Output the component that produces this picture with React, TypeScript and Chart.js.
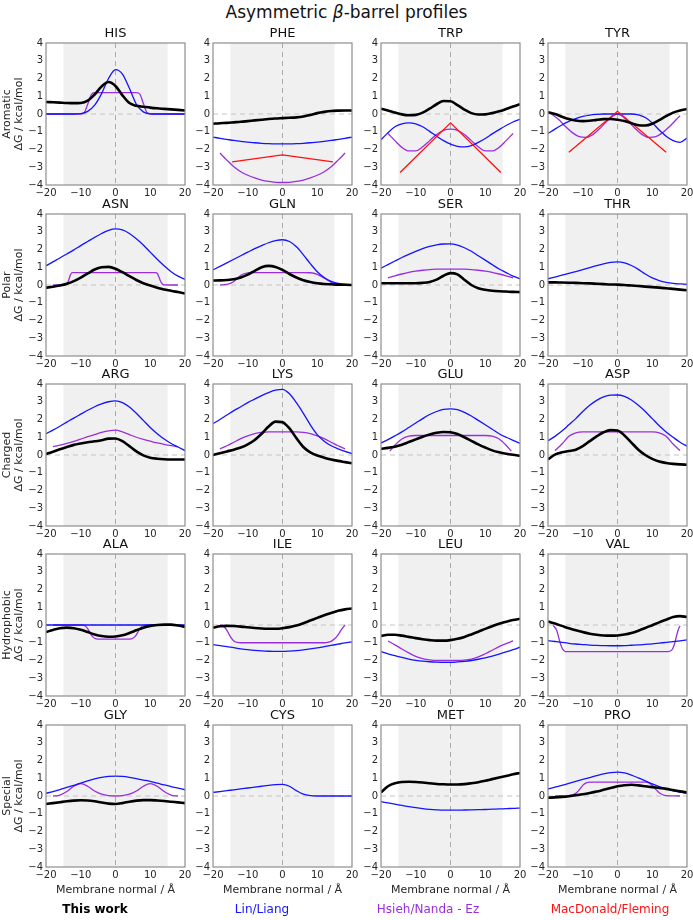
import React, { useEffect, useRef } from 'react';
import { Chart, registerables } from 'chart.js';

Chart.register(...registerables);
Chart.defaults.font.family = "'DejaVu Sans', sans-serif";

// ---------- data ----------
const GROUPS = ['Aromatic', 'Polar', 'Charged', 'Hydrophobic', 'Special'];
const RESIDUES = ['HIS', 'PHE', 'TRP', 'TYR', 'ASN', 'GLN', 'SER', 'THR', 'ARG', 'LYS', 'GLU', 'ASP', 'ALA', 'ILE', 'LEU', 'VAL', 'GLY', 'CYS', 'MET', 'PRO'];
const LEGEND_LABELS = ['This work', 'Lin/Liang', 'Hsieh/Nanda - Ez', 'MacDonald/Fleming'];
const X_TICKS = [-20, -10, 0, 10, 20];
const Y_TICKS = [-4, -3, -2, -1, 0, 1, 2, 3, 4];
const MEMBRANE_BAND = [-15, 15];

const Z_GRID = [-20, -18, -16, -14, -12, -10, -8, -6, -4, -2, 0, 2, 4, 6, 8, 10, 12, 14, 16, 18, 20];
const Z_INNER = [-18, -16, -14, -12, -10, -8, -6, -4, -2, 0, 2, 4, 6, 8, 10, 12, 14, 16, 18];

// Aromatic
const HIS_WORK = [0.68, 0.66, 0.64, 0.62, 0.61, 0.62, 0.75, 1.1, 1.55, 1.8, 1.58, 1.05, 0.62, 0.46, 0.41, 0.36, 0.32, 0.29, 0.26, 0.23, 0.2];
const HIS_LIN = [0, 0, 0, 0, 0, 0.02, 0.15, 0.5, 1.15, 2.0, 2.5, 2.25, 1.45, 0.55, 0.12, 0.01, 0, 0, 0, 0, 0];
const HIS_HSIEH_Z = [-20, -10, -9, -8, -7, -6, 6, 7, 8, 9, 10, 20];
const HIS_HSIEH = [0, 0, 0.08, 0.55, 1.08, 1.2, 1.2, 1.12, 0.6, 0.1, 0, 0];

const PHE_WORK = [-0.55, -0.52, -0.5, -0.47, -0.44, -0.4, -0.36, -0.32, -0.28, -0.25, -0.23, -0.21, -0.19, -0.14, -0.05, 0.05, 0.12, 0.17, 0.19, 0.2, 0.2];
const PHE_LIN = [-1.3, -1.37, -1.43, -1.49, -1.54, -1.58, -1.62, -1.65, -1.67, -1.68, -1.68, -1.68, -1.67, -1.65, -1.62, -1.58, -1.54, -1.49, -1.43, -1.37, -1.3];
const PHE_HSIEH = [-2.2, -2.6, -2.97, -3.25, -3.45, -3.6, -3.72, -3.8, -3.85, -3.86, -3.85, -3.8, -3.72, -3.6, -3.45, -3.25, -2.97, -2.6, -2.2];
const PHE_MAC_Z = [-14.5, 0, 14.5];
const PHE_MAC = [-2.7, -2.3, -2.7];

const TRP_WORK = [0.3, 0.2, 0.08, -0.02, -0.07, -0.05, 0.08, 0.3, 0.55, 0.73, 0.72, 0.5, 0.25, 0.05, -0.03, -0.02, 0.05, 0.15, 0.28, 0.42, 0.55];
const TRP_LIN = [-1.45, -1.05, -0.72, -0.55, -0.5, -0.55, -0.72, -0.98, -1.25, -1.5, -1.7, -1.82, -1.85, -1.78, -1.6, -1.38, -1.12, -0.88, -0.65, -0.45, -0.3];
const TRP_HSIEH = [-1.1, -1.5, -1.88, -2.08, -2.08, -1.85, -1.5, -1.15, -0.92, -0.85, -0.92, -1.15, -1.5, -1.85, -2.08, -2.08, -1.88, -1.5, -1.1];
const TRP_MAC_Z = [-14.5, 0, 14.5];
const TRP_MAC = [-3.3, -0.5, -3.3];

const TYR_WORK = [0.1, 0.0, -0.15, -0.28, -0.37, -0.4, -0.38, -0.33, -0.29, -0.28, -0.32, -0.4, -0.52, -0.63, -0.65, -0.55, -0.35, -0.12, 0.08, 0.2, 0.28];
const TYR_LIN = [-1.1, -0.85, -0.62, -0.42, -0.26, -0.14, -0.06, -0.02, 0, 0, 0, 0, 0, -0.05, -0.2, -0.5, -0.9, -1.25, -1.5, -1.6, -1.35];
const TYR_HSIEH_Z = [-19, -17, -15, -13, -11, -9, -7, -5, -3, -1, 0, 1, 3, 5, 7, 9, 11, 13, 15, 17, 18];
const TYR_HSIEH = [0.0, -0.3, -0.7, -1.05, -1.28, -1.32, -1.15, -0.8, -0.4, -0.08, 0.0, -0.08, -0.4, -0.8, -1.15, -1.32, -1.28, -1.05, -0.7, -0.3, -0.1];
const TYR_MAC_Z = [-14, 0, 14];
const TYR_MAC = [-2.15, 0.15, -2.15];

// Polar
const ASN_WORK = [-0.15, -0.1, -0.03, 0.07, 0.22, 0.42, 0.65, 0.87, 1.0, 1.02, 0.92, 0.72, 0.5, 0.28, 0.1, -0.03, -0.15, -0.25, -0.32, -0.4, -0.48];
const ASN_LIN = [1.08, 1.3, 1.52, 1.75, 1.98, 2.22, 2.45, 2.68, 2.9, 3.08, 3.16, 3.1, 2.9, 2.6, 2.25, 1.85, 1.45, 1.08, 0.75, 0.5, 0.32];
const ASN_HSIEH_Z = [-18, -14.5, -14, -13.5, -13, -12.5, 11.5, 12, 12.5, 13, 13.5, 14, 18];
const ASN_HSIEH = [0, 0, 0.05, 0.25, 0.55, 0.7, 0.7, 0.66, 0.45, 0.2, 0.06, 0.01, 0];

const GLN_WORK = [0.25, 0.26, 0.28, 0.32, 0.42, 0.58, 0.8, 1.0, 1.08, 1.02, 0.85, 0.62, 0.42, 0.27, 0.17, 0.1, 0.06, 0.04, 0.02, 0.01, 0.0];
const GLN_LIN = [0.85, 1.05, 1.25, 1.45, 1.65, 1.85, 2.05, 2.22, 2.38, 2.5, 2.55, 2.45, 2.15, 1.7, 1.2, 0.75, 0.42, 0.2, 0.09, 0.04, 0.02];
const GLN_HSIEH_Z = [-18, -16, -14, -12, -10, -8, 6, 8, 10, 12, 14, 16, 18];
const GLN_HSIEH = [0, 0.03, 0.2, 0.55, 0.68, 0.7, 0.7, 0.69, 0.6, 0.38, 0.15, 0.04, 0];

const SER_WORK = [0.1, 0.1, 0.1, 0.1, 0.1, 0.1, 0.12, 0.17, 0.3, 0.52, 0.67, 0.6, 0.3, 0.0, -0.18, -0.27, -0.32, -0.35, -0.37, -0.39, -0.4];
const SER_LIN = [0.95, 1.15, 1.35, 1.55, 1.73, 1.9, 2.05, 2.17, 2.26, 2.31, 2.32, 2.25, 2.1, 1.9, 1.65, 1.4, 1.15, 0.9, 0.7, 0.5, 0.35];
const SER_HSIEH = [0.4, 0.52, 0.62, 0.71, 0.78, 0.83, 0.87, 0.89, 0.9, 0.9, 0.9, 0.89, 0.87, 0.83, 0.78, 0.71, 0.62, 0.52, 0.4];

const THR_WORK = [0.15, 0.15, 0.14, 0.13, 0.12, 0.1, 0.09, 0.07, 0.05, 0.03, 0.02, 0.0, -0.03, -0.06, -0.09, -0.12, -0.15, -0.18, -0.22, -0.26, -0.3];
const THR_LIN = [0.35, 0.45, 0.55, 0.65, 0.76, 0.87, 0.98, 1.09, 1.19, 1.27, 1.3, 1.25, 1.1, 0.88, 0.62, 0.4, 0.25, 0.15, 0.09, 0.06, 0.04];

// Charged
const ARG_WORK = [0.05, 0.18, 0.32, 0.45, 0.57, 0.65, 0.72, 0.77, 0.83, 0.92, 0.93, 0.78, 0.5, 0.2, -0.02, -0.15, -0.21, -0.24, -0.25, -0.25, -0.25];
const ARG_LIN = [1.2, 1.4, 1.62, 1.85, 2.08, 2.3, 2.52, 2.72, 2.88, 3.0, 3.05, 2.95, 2.7, 2.35, 1.95, 1.55, 1.2, 0.9, 0.65, 0.45, 0.25];
const ARG_HSIEH = [0.47, 0.55, 0.65, 0.77, 0.9, 1.03, 1.15, 1.27, 1.36, 1.4, 1.3, 1.15, 1.0, 0.88, 0.78, 0.68, 0.6, 0.53, 0.47];

const LYS_WORK = [0.0, 0.1, 0.2, 0.3, 0.42, 0.6, 0.85, 1.2, 1.6, 1.88, 1.85, 1.5, 0.95, 0.45, 0.15, -0.03, -0.15, -0.25, -0.33, -0.4, -0.47];
const LYS_LIN = [1.77, 2.0, 2.25, 2.5, 2.72, 2.95, 3.15, 3.35, 3.52, 3.65, 3.7, 3.45, 2.95, 2.35, 1.7, 1.15, 0.78, 0.52, 0.35, 0.2, 0.08];
const LYS_HSIEH = [0.35, 0.52, 0.72, 0.92, 1.08, 1.2, 1.27, 1.3, 1.3, 1.3, 1.3, 1.3, 1.27, 1.2, 1.08, 0.92, 0.72, 0.52, 0.35];

const GLU_WORK = [0.35, 0.4, 0.47, 0.58, 0.73, 0.88, 1.03, 1.15, 1.25, 1.3, 1.28, 1.18, 1.0, 0.8, 0.6, 0.42, 0.26, 0.15, 0.07, 0.01, -0.04];
const GLU_LIN = [0.68, 0.87, 1.08, 1.3, 1.55, 1.8, 2.05, 2.28, 2.45, 2.57, 2.6, 2.55, 2.4, 2.2, 1.95, 1.7, 1.45, 1.2, 1.0, 0.82, 0.65];
const GLU_HSIEH_Z = [-17.5, -16, -14, -12, -10, 10, 12, 14, 16, 17.5];
const GLU_HSIEH = [0.22, 0.55, 0.9, 1.06, 1.1, 1.1, 1.06, 0.9, 0.55, 0.22];

const ASP_WORK = [-0.25, 0.02, 0.15, 0.22, 0.3, 0.5, 0.78, 1.05, 1.28, 1.4, 1.38, 1.1, 0.7, 0.3, 0.0, -0.22, -0.37, -0.45, -0.5, -0.53, -0.55];
const ASP_LIN = [0.8, 1.05, 1.35, 1.7, 2.05, 2.45, 2.8, 3.08, 3.27, 3.37, 3.38, 3.3, 3.1, 2.8, 2.45, 2.05, 1.65, 1.3, 1.0, 0.72, 0.5];
const ASP_HSIEH_Z = [-18, -16, -14, -12, -10, 10, 12, 14, 16, 18];
const ASP_HSIEH = [0.25, 0.62, 1.05, 1.25, 1.3, 1.3, 1.25, 1.05, 0.62, 0.25];

// Hydrophobic
const ALA_WORK = [-0.4, -0.28, -0.18, -0.15, -0.18, -0.27, -0.4, -0.53, -0.62, -0.66, -0.65, -0.58, -0.45, -0.3, -0.15, -0.05, 0.0, 0.02, 0.02, -0.03, -0.1];
const ALA_LIN = [0, 0, 0, 0, 0, 0, 0, 0, 0, 0, 0, 0, 0, 0, 0, 0, 0, 0, 0, 0, 0];
const ALA_HSIEH_Z = [-18, -10, -9, -8, -7, -6, -5, 4, 5, 6, 7, 8, 9, 18];
const ALA_HSIEH = [0, 0, -0.03, -0.2, -0.55, -0.75, -0.8, -0.8, -0.75, -0.55, -0.2, -0.03, 0, 0];

const ILE_WORK = [-0.15, -0.07, -0.05, -0.06, -0.09, -0.13, -0.17, -0.2, -0.21, -0.21, -0.18, -0.12, -0.03, 0.1, 0.25, 0.4, 0.55, 0.68, 0.8, 0.88, 0.93];
const ILE_LIN = [-1.1, -1.16, -1.22, -1.28, -1.34, -1.39, -1.43, -1.46, -1.48, -1.49, -1.49, -1.47, -1.44, -1.4, -1.35, -1.29, -1.22, -1.15, -1.08, -1.01, -0.95];
const ILE_HSIEH_Z = [-18, -17, -16, -15, -14, -13, -12, 12, 13, 14, 15, 16, 17, 18];
const ILE_HSIEH = [0, -0.05, -0.3, -0.65, -0.9, -0.98, -1.0, -1.0, -0.98, -0.92, -0.78, -0.55, -0.25, 0];

const LEU_WORK = [-0.62, -0.55, -0.55, -0.6, -0.67, -0.74, -0.8, -0.85, -0.88, -0.88, -0.85, -0.78, -0.67, -0.53, -0.38, -0.22, -0.07, 0.07, 0.18, 0.28, 0.35];
const LEU_LIN = [-1.5, -1.62, -1.73, -1.83, -1.92, -1.99, -2.04, -2.07, -2.09, -2.1, -2.1, -2.08, -2.05, -2.0, -1.93, -1.85, -1.75, -1.64, -1.52, -1.39, -1.25];
const LEU_HSIEH = [-0.9, -1.12, -1.35, -1.57, -1.77, -1.9, -1.97, -2.0, -2.0, -2.0, -2.0, -1.98, -1.92, -1.8, -1.62, -1.42, -1.22, -1.05, -0.9];

const VAL_WORK = [0.2, 0.08, -0.05, -0.18, -0.3, -0.4, -0.49, -0.55, -0.59, -0.6, -0.59, -0.54, -0.45, -0.32, -0.17, -0.01, 0.15, 0.3, 0.45, 0.5, 0.45];
const VAL_LIN = [-0.88, -0.93, -0.98, -1.03, -1.07, -1.1, -1.13, -1.15, -1.16, -1.17, -1.17, -1.16, -1.14, -1.12, -1.09, -1.06, -1.02, -0.98, -0.94, -0.89, -0.84];
const VAL_HSIEH_Z = [-18.5, -17.5, -17, -16.5, -16, -15.5, -15, 14.5, 15.5, 16, 16.5, 17, 17.5, 18];
const VAL_HSIEH = [-0.02, -0.3, -0.65, -1.0, -1.28, -1.43, -1.5, -1.5, -1.43, -1.28, -1.0, -0.6, -0.25, -0.05];

// Special
const GLY_WORK = [-0.45, -0.4, -0.35, -0.3, -0.26, -0.24, -0.25, -0.3, -0.37, -0.43, -0.45, -0.4, -0.32, -0.26, -0.23, -0.23, -0.25, -0.28, -0.32, -0.36, -0.4];
const GLY_LIN = [0.15, 0.25, 0.36, 0.48, 0.6, 0.72, 0.85, 0.96, 1.05, 1.1, 1.12, 1.1, 1.05, 0.98, 0.9, 0.82, 0.72, 0.63, 0.53, 0.44, 0.35];
const GLY_HSIEH = [0.0, 0.05, 0.25, 0.55, 0.7, 0.55, 0.28, 0.1, 0.02, 0.0, 0.02, 0.1, 0.28, 0.55, 0.7, 0.55, 0.25, 0.05, 0.0];

const CYS_LIN = [0.2, 0.25, 0.3, 0.35, 0.4, 0.45, 0.5, 0.55, 0.6, 0.64, 0.66, 0.55, 0.3, 0.1, 0.02, 0, 0, 0, 0, 0, 0];

const MET_WORK = [0.2, 0.55, 0.72, 0.79, 0.8, 0.79, 0.76, 0.72, 0.68, 0.66, 0.65, 0.65, 0.67, 0.72, 0.78, 0.86, 0.95, 1.04, 1.13, 1.22, 1.3];
const MET_LIN = [-0.32, -0.39, -0.46, -0.53, -0.6, -0.66, -0.71, -0.75, -0.78, -0.8, -0.8, -0.8, -0.79, -0.78, -0.77, -0.76, -0.74, -0.73, -0.71, -0.7, -0.68];

const PRO_WORK = [-0.1, -0.08, -0.05, -0.01, 0.04, 0.1, 0.17, 0.25, 0.35, 0.45, 0.55, 0.61, 0.63, 0.6, 0.55, 0.5, 0.45, 0.4, 0.33, 0.26, 0.2];
const PRO_LIN = [0.4, 0.5, 0.6, 0.71, 0.82, 0.93, 1.04, 1.15, 1.25, 1.32, 1.35, 1.3, 1.18, 1.02, 0.85, 0.68, 0.53, 0.41, 0.31, 0.22, 0.15];
const PRO_HSIEH_Z = [-18, -14, -12, -11, -10, -9, -8, 8, 9, 10, 11, 12, 13, 14, 18];
const PRO_HSIEH = [0, 0.02, 0.15, 0.35, 0.6, 0.74, 0.78, 0.78, 0.74, 0.6, 0.38, 0.18, 0.07, 0.02, 0];

type Series = { work?: number[]; lin?: number[]; hsiehZ?: number[]; hsieh?: number[]; macZ?: number[]; mac?: number[] };

const SERIES: Record<string, Series> = {
  HIS: { work: HIS_WORK, lin: HIS_LIN, hsiehZ: HIS_HSIEH_Z, hsieh: HIS_HSIEH },
  PHE: { work: PHE_WORK, lin: PHE_LIN, hsiehZ: Z_INNER, hsieh: PHE_HSIEH, macZ: PHE_MAC_Z, mac: PHE_MAC },
  TRP: { work: TRP_WORK, lin: TRP_LIN, hsiehZ: Z_INNER, hsieh: TRP_HSIEH, macZ: TRP_MAC_Z, mac: TRP_MAC },
  TYR: { work: TYR_WORK, lin: TYR_LIN, hsiehZ: TYR_HSIEH_Z, hsieh: TYR_HSIEH, macZ: TYR_MAC_Z, mac: TYR_MAC },
  ASN: { work: ASN_WORK, lin: ASN_LIN, hsiehZ: ASN_HSIEH_Z, hsieh: ASN_HSIEH },
  GLN: { work: GLN_WORK, lin: GLN_LIN, hsiehZ: GLN_HSIEH_Z, hsieh: GLN_HSIEH },
  SER: { work: SER_WORK, lin: SER_LIN, hsiehZ: Z_INNER, hsieh: SER_HSIEH },
  THR: { work: THR_WORK, lin: THR_LIN },
  ARG: { work: ARG_WORK, lin: ARG_LIN, hsiehZ: Z_INNER, hsieh: ARG_HSIEH },
  LYS: { work: LYS_WORK, lin: LYS_LIN, hsiehZ: Z_INNER, hsieh: LYS_HSIEH },
  GLU: { work: GLU_WORK, lin: GLU_LIN, hsiehZ: GLU_HSIEH_Z, hsieh: GLU_HSIEH },
  ASP: { work: ASP_WORK, lin: ASP_LIN, hsiehZ: ASP_HSIEH_Z, hsieh: ASP_HSIEH },
  ALA: { work: ALA_WORK, lin: ALA_LIN, hsiehZ: ALA_HSIEH_Z, hsieh: ALA_HSIEH },
  ILE: { work: ILE_WORK, lin: ILE_LIN, hsiehZ: ILE_HSIEH_Z, hsieh: ILE_HSIEH },
  LEU: { work: LEU_WORK, lin: LEU_LIN, hsiehZ: Z_INNER, hsieh: LEU_HSIEH },
  VAL: { work: VAL_WORK, lin: VAL_LIN, hsiehZ: VAL_HSIEH_Z, hsieh: VAL_HSIEH },
  GLY: { work: GLY_WORK, lin: GLY_LIN, hsiehZ: Z_INNER, hsieh: GLY_HSIEH },
  CYS: { lin: CYS_LIN },
  MET: { work: MET_WORK, lin: MET_LIN },
  PRO: { work: PRO_WORK, lin: PRO_LIN, hsiehZ: PRO_HSIEH_Z, hsieh: PRO_HSIEH },
};

// ---------- styling / layout ----------
const COLORS = { work: '#000000', lin: '#1414ff', hsieh: '#9a2ede', mac: '#ff1010' };
const TEXT = '#262626';
const COL_LEFT = [46, 213, 381, 548];
const ROW_TOP = [43, 214, 384, 554, 725];
const PLOT_W = 139;
const PLOT_H = 142;
const FONT = "'DejaVu Sans', sans-serif";

const zip = (zs: number[], ys: number[]) => zs.map((z, i) => ({ x: z, y: ys[i] }));
const fmt = (v: any) => {
  const n = Number(v);
  return n < 0 ? '\u2212' + Math.abs(n) : String(n);
};

const decor = {
  id: 'membraneDecor',
  beforeDatasetsDraw(chart: any) {
    const { ctx, chartArea: a, scales } = chart;
    const x = scales.x, y = scales.y;
    ctx.save();
    const x0 = x.getPixelForValue(MEMBRANE_BAND[0]);
    const x1 = x.getPixelForValue(MEMBRANE_BAND[1]);
    ctx.fillStyle = '#f0f0f0';
    ctx.fillRect(x0, a.top, x1 - x0, a.bottom - a.top);
    ctx.strokeStyle = '#ababab';
    ctx.lineWidth = 1;
    ctx.setLineDash([5, 4]);
    const xz = x.getPixelForValue(0);
    ctx.beginPath();
    ctx.moveTo(xz, a.top);
    ctx.lineTo(xz, a.bottom);
    ctx.stroke();
    const yz = y.getPixelForValue(0);
    ctx.strokeStyle = '#c4c4c4';
    ctx.beginPath();
    ctx.moveTo(a.left, yz);
    ctx.lineTo(a.right, yz);
    ctx.stroke();
    ctx.restore();
  },
  afterDraw(chart: any) {
    const { ctx, chartArea: a } = chart;
    ctx.save();
    ctx.strokeStyle = '#8e8e8e';
    ctx.lineWidth = 1.2;
    ctx.strokeRect(a.left, a.top, a.right - a.left, a.bottom - a.top);
    ctx.restore();
  },
};

function Panel({ idx }: { idx: number }) {
  const ref = useRef<HTMLCanvasElement>(null);
  const row = Math.floor(idx / 4);
  const col = idx % 4;
  const L = col === 0 ? 46 : 30;
  const R = 10;
  const T = 22;
  const B = row === 4 ? 30 : 18;

  useEffect(() => {
    const name = RESIDUES[idx];
    const s = SERIES[name];
    const datasets: any[] = [];
    const base = { pointRadius: 0, fill: false, cubicInterpolationMode: 'monotone' };
    if (s.work) datasets.push({ ...base, label: LEGEND_LABELS[0], data: zip(Z_GRID, s.work), borderColor: COLORS.work, borderWidth: 2.6 });
    if (s.mac && s.macZ) datasets.push({ ...base, label: LEGEND_LABELS[3], data: zip(s.macZ, s.mac), borderColor: COLORS.mac, borderWidth: 1.3, cubicInterpolationMode: 'default', tension: 0 });
    if (s.lin) datasets.push({ ...base, label: LEGEND_LABELS[1], data: zip(Z_GRID, s.lin), borderColor: COLORS.lin, borderWidth: 1.3 });
    if (s.hsieh && s.hsiehZ) datasets.push({ ...base, label: LEGEND_LABELS[2], data: zip(s.hsiehZ, s.hsieh), borderColor: COLORS.hsieh, borderWidth: 1.3 });

    const chart = new Chart(ref.current as HTMLCanvasElement, {
      type: 'line',
      data: { datasets },
      plugins: [decor],
      options: {
        animation: false,
        responsive: true,
        maintainAspectRatio: false,
        events: [],
        layout: { padding: { left: 0, right: R, top: 0, bottom: 0 } },
        plugins: {
          legend: { display: false },
          tooltip: { enabled: false },
          title: {
            display: true,
            text: name,
            fullSize: false,
            color: '#111',
            font: { family: FONT, size: 13, weight: 'normal', lineHeight: '16px' },
            padding: { top: 5, bottom: 1 },
          },
        },
        scales: {
          x: {
            type: 'linear',
            min: X_TICKS[0],
            max: X_TICKS[X_TICKS.length - 1],
            afterBuildTicks: (sc: any) => { sc.ticks = X_TICKS.map((v) => ({ value: v })); },
            ticks: { autoSkip: false, maxRotation: 0, padding: 2, color: TEXT, font: { family: FONT, size: 10 }, callback: fmt },
            grid: { display: false, drawTicks: false },
            border: { display: false },
            title: row === 4
              ? { display: true, text: 'Membrane normal / Å', color: TEXT, font: { family: FONT, size: 11 }, padding: { top: 4, bottom: 0 } }
              : { display: false },
            afterFit: (sc: any) => { sc.height = B; },
          },
          y: {
            type: 'linear',
            min: Y_TICKS[0],
            max: Y_TICKS[Y_TICKS.length - 1],
            afterBuildTicks: (sc: any) => { sc.ticks = Y_TICKS.map((v) => ({ value: v })); },
            ticks: { autoSkip: false, padding: 3, color: TEXT, font: { family: FONT, size: 10 }, callback: fmt },
            grid: { display: false, drawTicks: false },
            border: { display: false },
            title: col === 0
              ? { display: true, text: [GROUPS[row], 'ΔG / kcal/mol'], color: TEXT, font: { family: FONT, size: 11, lineHeight: '12px' }, padding: { top: 1, bottom: 0 } }
              : { display: false },
            afterFit: (sc: any) => { sc.width = L; },
          },
        },
      } as any,
    });
    return () => chart.destroy();
  }, []);

  return (
    <div
      style={{
        position: 'absolute',
        left: COL_LEFT[col] - L,
        top: ROW_TOP[row] - T,
        width: L + PLOT_W + R,
        height: T + PLOT_H + B,
      }}
    >
      <canvas ref={ref} />
    </div>
  );
}

const LEGEND_CENTERS = [95, 262, 428, 610];
const LEGEND_COLORS = [COLORS.work, COLORS.lin, COLORS.hsieh, COLORS.mac];

export default function App() {
  return (
    <div style={{ position: 'absolute', left: 0, top: 0, width: 693, height: 920, background: '#fff', fontFamily: FONT, overflow: 'hidden' }}>
      <div style={{ position: 'absolute', left: 0, top: 2, width: 693, textAlign: 'center', fontSize: 17, lineHeight: '20px', color: '#111' }}>
        Asymmetric <span style={{ fontStyle: 'italic' }}>β</span>-barrel profiles
      </div>
      {RESIDUES.map((_, i) => (
        <Panel key={i} idx={i} />
      ))}
      {LEGEND_LABELS.map((t, i) => (
        <div
          key={t}
          style={{
            position: 'absolute',
            left: LEGEND_CENTERS[i],
            top: 901,
            transform: 'translateX(-50%)',
            whiteSpace: 'nowrap',
            fontSize: 12,
            lineHeight: '16px',
            fontWeight: i === 0 ? 'bold' : 'normal',
            color: LEGEND_COLORS[i],
          }}
        >
          {t}
        </div>
      ))}
    </div>
  );
}
